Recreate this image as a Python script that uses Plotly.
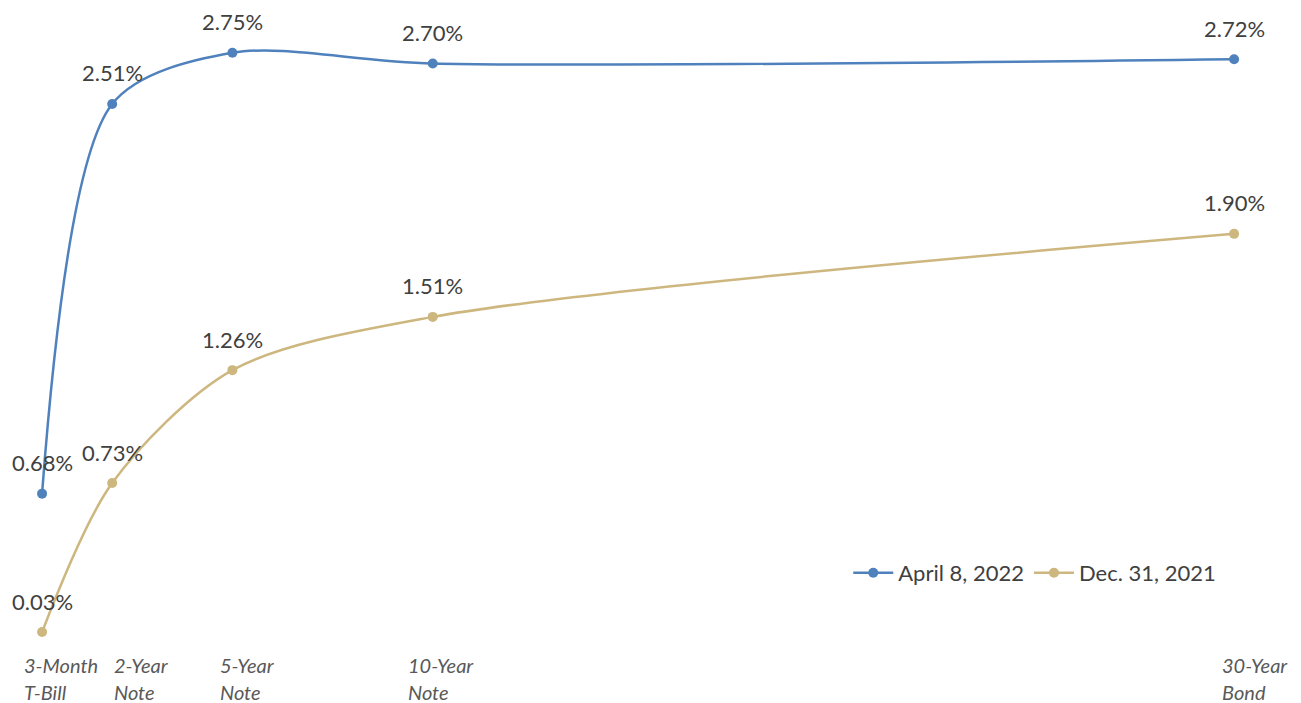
import plotly.graph_objects as go

maturity_years = [0.25, 2, 5, 10, 30]
tick_line1 = ["3-Month", "2-Year", "5-Year", "10-Year", "30-Year"]
tick_line2 = ["T-Bill", "Note", "Note", "Note", "Bond"]
apr_2022 = [0.68, 2.51, 2.75, 2.70, 2.72]
dec_2021 = [0.03, 0.73, 1.26, 1.51, 1.90]

BLUE = "#4F81BD"
TAN = "#CDB77F"
TXT = "#404040"
FONT = "Lato"

fig = go.Figure()
for name, vals, col in [("April 8, 2022", apr_2022, BLUE), ("Dec. 31, 2021", dec_2021, TAN)]:
    fig.add_trace(go.Scatter(
        x=maturity_years, y=vals, name=name, mode="lines+markers",
        line=dict(color=col, width=2.5, shape="spline", smoothing=0.85),
        marker=dict(color=col, size=10),
    ))
    for xv, yv in zip(maturity_years, vals):
        fig.add_annotation(x=xv, y=yv, text=f"{yv:.2f}%", showarrow=False,
                           xanchor="center", yanchor="middle", yshift=31,
                           font=dict(family=FONT, size=22, color=TXT))

# tick labels (left-aligned, italic), pixel offsets as style
x_shifts = [-20, 0, -14, -27, -14]
for xv, l1, l2, xs in zip(maturity_years, tick_line1, tick_line2, x_shifts):
    fig.add_annotation(x=xv, xref="x", y=1 - 665 / 703, yref="paper", text=f"<i>{l1}</i>",
                       showarrow=False, xanchor="left", yanchor="middle", xshift=xs,
                       font=dict(family=FONT, size=20, color="#595959"))
    fig.add_annotation(x=xv, xref="x", y=1 - 692 / 703, yref="paper", text=f"<i>{l2}</i>",
                       showarrow=False, xanchor="left", yanchor="middle", xshift=xs,
                       font=dict(family=FONT, size=20, color="#595959"))

fig.update_layout(
    width=1301, height=703,
    margin=dict(l=0, r=0, t=0, b=0),
    paper_bgcolor="white", plot_bgcolor="white",
    xaxis=dict(range=[-0.8, 31.67], showgrid=False, zeroline=False, showticklabels=False, showline=False),
    yaxis=dict(range=[-0.303, 2.998], showgrid=False, zeroline=False, showticklabels=False, showline=False),
    legend=dict(orientation="h", x=0.652, y=1 - 573 / 703, xanchor="left", yanchor="middle",
                font=dict(family=FONT, size=22, color=TXT), bgcolor="rgba(0,0,0,0)",
                itemwidth=40),
    showlegend=True,
)
fig.write_html("out.html")
